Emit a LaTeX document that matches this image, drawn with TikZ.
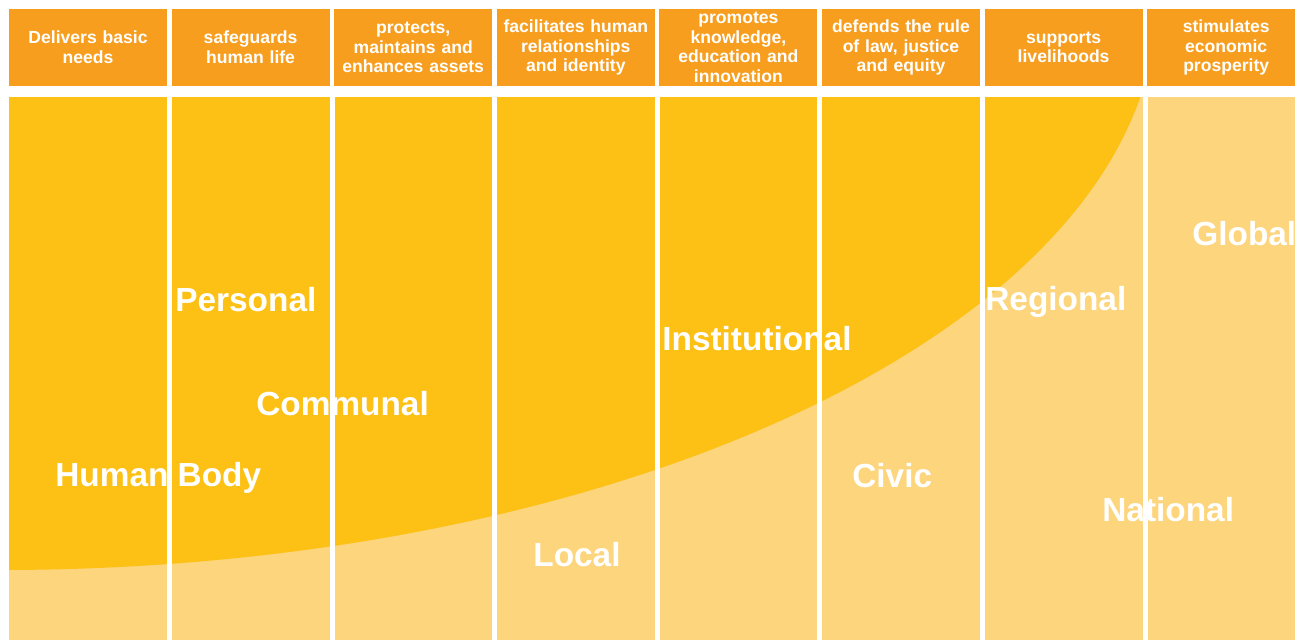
\documentclass[tikz,border=0pt]{standalone}
\usepackage{fontspec}
\setmainfont{Liberation Sans}
\definecolor{hdrorange}{RGB}{247,158,30}
\definecolor{deepyellow}{RGB}{252,193,20}
\definecolor{paleyellow}{RGB}{252,213,125}
\tikzset{
  hdr/.style={fill=hdrorange, text=white, font=\fontsize{10}{11.2}\selectfont\bfseries,
    align=center, text width=3.1cm, minimum width=3.16cm, minimum height=1.56cm, inner sep=0pt},
  lvl/.style={text=white, font=\fontsize{19}{22}\selectfont\bfseries, anchor=base west, inner sep=0pt}
}
\begin{document}
\begin{tikzpicture}[x=0.02cm,y=-0.02cm]
\useasboundingbox (0,0) rectangle (1295,640);
\begin{scope}
\clip (0,0) rectangle (1295,640);
% header row
\foreach \t [count=\i] in {{Delivers basic\\needs},{safeguards\\human life},
  {protects,\\maintains and\\enhances assets},{facilitates human\\relationships\\and identity},
  {promotes\\knowledge,\\education and\\innovation},{defends the rule\\of law, justice\\and equity},
  {supports\\livelihoods},{stimulates\\economic\\prosperity}}
\node[hdr] (hdr\i) at ({88+162.6*(\i-1)},47.5) {\t};
% levels
\fill[paleyellow] (9,97) rectangle (1295,640);
\begin{scope}
\clip (9,97) rectangle (1295,640);
\fill[deepyellow] (0,0) ellipse [x radius=1157, y radius=570];
\end{scope}
\foreach \i in {1,...,7}
\fill[white] ({167+162.6*(\i-1)},97) rectangle +(5,543);
\end{scope}
\node[lvl] (body) at (55,486) {Human Body};
\node[lvl] (personal) at (175,311) {Personal};
\node[lvl] (communal) at (256,415) {Communal};
\node[lvl] (local) at (533,566) {Local};
\node[lvl] (institutional) at (662,350) {Institutional};
\node[lvl] (civic) at (852,487) {Civic};
\node[lvl] (regional) at (985,310) {Regional};
\node[lvl] (national) at (1102,521) {National};
\node[lvl] (global) at (1192,245) {Global};
\end{tikzpicture}
\end{document}
